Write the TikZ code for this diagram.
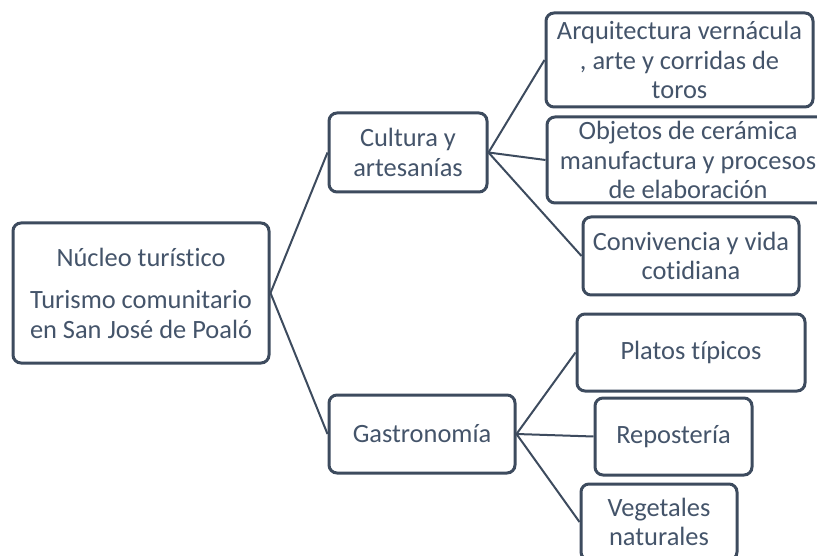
\documentclass[tikz,border=0pt]{standalone}
\usepackage{fontspec}
\setmainfont[Ligatures={NoCommon}]{Carlito}
\definecolor{boxline}{HTML}{3D4B5E}
\definecolor{txt}{HTML}{44546A}
\begin{document}
\begin{tikzpicture}[x=1pt,y=-1pt,
  box/.style={draw=boxline, line width=3pt, rounded corners=8pt, fill=white,
    text=txt, align=center, inner sep=0pt, font=\fontsize{26.4}{29.5}\selectfont},
  conn/.style={draw=boxline, line width=2pt}]
\useasboundingbox (0,0) rectangle (817,556);
\clip (0,0) rectangle (817,556);
\node[box, minimum width=256pt, minimum height=140pt] (root) at (141,293)
  {Núcleo turístico\\[13pt]Turismo comunitario\\en San José de Poaló};
\node[box, minimum width=158pt, minimum height=79pt] (cult) at (408,152.5)
  {Cultura y\\artesanías};
\node[box, minimum width=186pt, minimum height=78pt] (gast) at (422,434)
  {Gastronomía};
\node[box, minimum width=267pt, minimum height=94pt] (arq) at (679.5,60)
  {Arquitectura vernácula\\, arte y corridas de\\toros};
\node[box, minimum width=282pt, minimum height=86pt] (obj) at (688,160)
  {Objetos de cerámica\\manufactura y procesos\\de elaboración};
\node[box, minimum width=216pt, minimum height=78pt] (conv) at (691,256)
  {Convivencia y vida\\cotidiana};
\node[box, minimum width=228pt, minimum height=77pt] (plat) at (691,352.5)
  {Platos típicos};
\node[box, minimum width=157pt, minimum height=77pt] (repo) at (673.5,436.5)
  {Repostería};
\node[box, minimum width=156pt, minimum height=76pt] (veg) at (659,522)
  {Vegetales\\naturales};
\draw[conn] (root.east) -- (cult.west);
\draw[conn] (root.east) -- (gast.west);
\draw[conn] (cult.east) -- (arq.west);
\draw[conn] (cult.east) -- (obj.west);
\draw[conn] (cult.east) -- (conv.west);
\draw[conn] (gast.east) -- (plat.west);
\draw[conn] (gast.east) -- (repo.west);
\draw[conn] (gast.east) -- (veg.west);
\end{tikzpicture}
\end{document}
